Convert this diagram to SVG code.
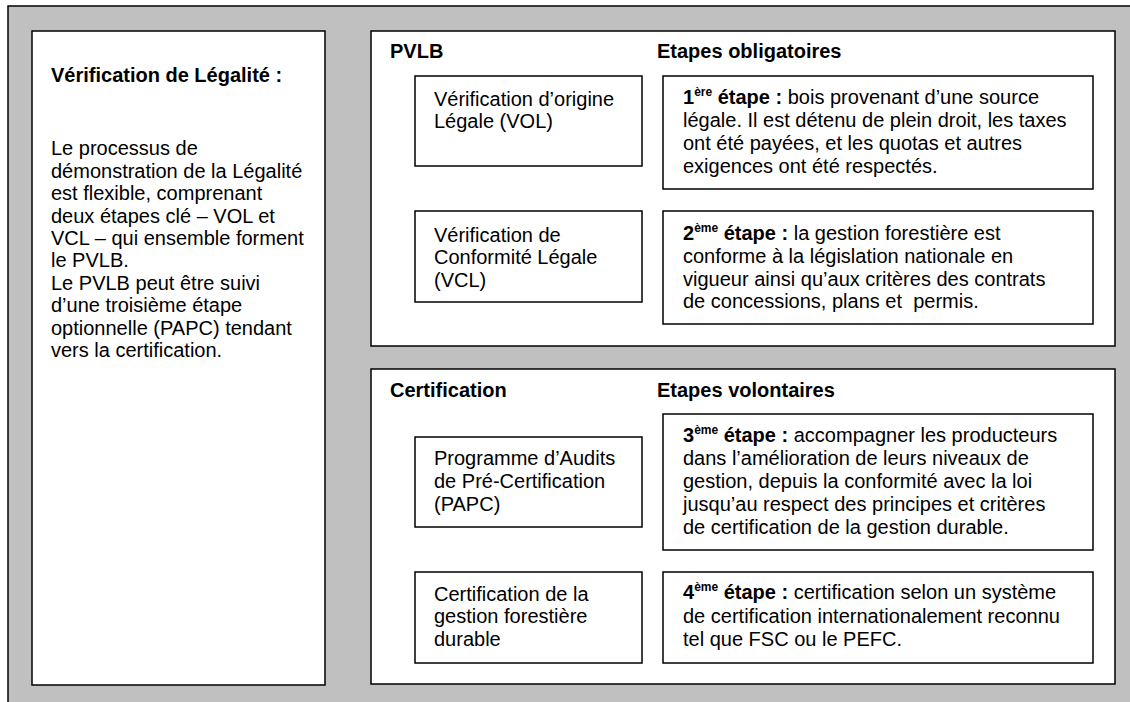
<svg xmlns="http://www.w3.org/2000/svg" width="1130" height="702" viewBox="0 0 1130 702">
<style>
  .box { fill: #ffffff; stroke: #000000; stroke-width: 1.5; }
  text { font-family: "Liberation Sans", Arial, sans-serif; font-size: 20px; fill: #000000; }
  .b { font-weight: bold; }
  .sup { font-size: 12px; }
</style>
<rect x="8" y="6" width="1140" height="720" fill="#c0c0c0" stroke="#000000" stroke-width="1.5"/>
<g id="legalite">
  <rect class="box" x="32" y="31" width="293" height="654"/>
  <text class="b" x="51" y="82">Vérification de Légalité :</text>
  <text x="51" y="155">Le processus de</text>
  <text x="51" y="178">démonstration de la Légalité</text>
  <text x="51" y="200">est flexible, comprenant</text>
  <text x="51" y="223">deux étapes clé – VOL et</text>
  <text x="51" y="245">VCL – qui ensemble forment</text>
  <text x="51" y="267">le PVLB.</text>
  <text x="51" y="290">Le PVLB peut être suivi</text>
  <text x="51" y="312">d’une troisième étape</text>
  <text x="51" y="335">optionnelle (PAPC) tendant</text>
  <text x="51" y="357">vers la certification.</text>
</g>
<g id="pvlb">
  <rect class="box" x="371" y="31" width="744" height="315"/>
  <text class="b" x="390" y="58">PVLB</text>
  <text class="b" x="657" y="58">Etapes obligatoires</text>
</g>
<g id="vol">
  <rect class="box" x="415" y="76" width="227" height="90"/>
  <text x="434" y="106">Vérification d’origine</text>
  <text x="434" y="128">Légale (VOL)</text>
</g>
<g id="etape1">
  <rect class="box" x="663" y="76" width="430" height="113"/>
  <text x="683" y="104"><tspan class="b">1</tspan><tspan class="sup b" dy="-8">ère</tspan><tspan class="b" dy="8"> étape :</tspan> bois provenant d’une source</text>
  <text x="683" y="127">légale. Il est détenu de plein droit, les taxes</text>
  <text x="683" y="150">ont été payées, et les quotas et autres</text>
  <text x="683" y="173">exigences ont été respectés.</text>
</g>
<g id="vcl">
  <rect class="box" x="415" y="211" width="227" height="91"/>
  <text x="434" y="242">Vérification de</text>
  <text x="434" y="264">Conformité Légale</text>
  <text x="434" y="287">(VCL)</text>
</g>
<g id="etape2">
  <rect class="box" x="663" y="211" width="430" height="113"/>
  <text x="683" y="240"><tspan class="b">2</tspan><tspan class="sup b" dy="-8">ème</tspan><tspan class="b" dy="8"> étape :</tspan> la gestion forestière est</text>
  <text x="683" y="263">conforme à la législation nationale en</text>
  <text x="683" y="286">vigueur ainsi qu’aux critères des contrats</text>
  <text x="683" y="308" xml:space="preserve">de concessions, plans et  permis.</text>
</g>
<g id="certification">
  <rect class="box" x="371" y="369" width="744" height="315"/>
  <text class="b" x="390" y="397">Certification</text>
  <text class="b" x="657" y="397">Etapes volontaires</text>
</g>
<g id="papc">
  <rect class="box" x="415" y="437" width="227" height="90"/>
  <text x="434" y="465">Programme d’Audits</text>
  <text x="434" y="488">de Pré-Certification</text>
  <text x="434" y="511">(PAPC)</text>
</g>
<g id="etape3">
  <rect class="box" x="663" y="414" width="430" height="136"/>
  <text x="683" y="442"><tspan class="b">3</tspan><tspan class="sup b" dy="-8">ème</tspan><tspan class="b" dy="8"> étape :</tspan> accompagner les producteurs</text>
  <text x="683" y="465">dans l’amélioration de leurs niveaux de</text>
  <text x="683" y="488">gestion, depuis la conformité avec la loi</text>
  <text x="683" y="511">jusqu’au respect des principes et critères</text>
  <text x="683" y="534">de certification de la gestion durable.</text>
</g>
<g id="gestion">
  <rect class="box" x="415" y="572" width="227" height="91"/>
  <text x="434" y="601">Certification de la</text>
  <text x="434" y="623">gestion forestière</text>
  <text x="434" y="646">durable</text>
</g>
<g id="etape4">
  <rect class="box" x="663" y="572" width="430" height="91"/>
  <text x="683" y="599"><tspan class="b">4</tspan><tspan class="sup b" dy="-8">ème</tspan><tspan class="b" dy="8"> étape :</tspan> certification selon un système</text>
  <text x="683" y="623">de certification internationalement reconnu</text>
  <text x="683" y="646">tel que FSC ou le PEFC.</text>
</g>
<g id="connectors"></g>
</svg>
